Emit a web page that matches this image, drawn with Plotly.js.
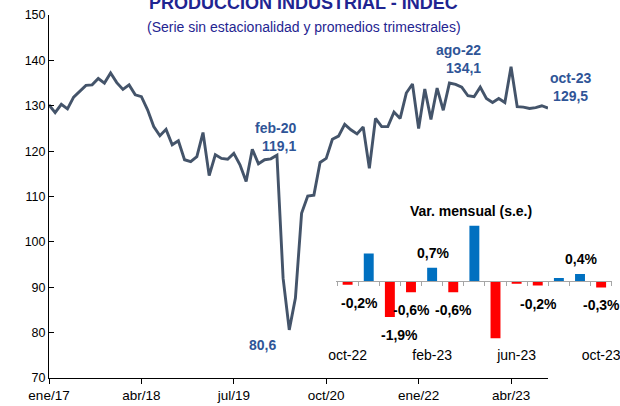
<!DOCTYPE html>
<html><head><meta charset="utf-8">
<script src="https://cdn.plot.ly/plotly-3.0.1.min.js"></script>
<style>html,body{margin:0;padding:0;background:#fff}#chart{width:620px;height:406px}</style>
</head><body><div id="chart"></div>
<script>
// ---- data ----
const monthNames = ["ene","feb","mar","abr","may","jun","jul","ago","sep","oct","nov","dic"];
const startYear = 2017;
const ipiValues = [
  130.2,128.5,130.3,129.3,131.9,133.1,134.5,134.6,136.0,135.0,137.2,135.1,
  133.6,134.6,132.4,132.0,129.1,125.4,123.4,124.8,121.4,122.3,118.1,117.7,
  118.8,124.1,114.6,119.2,118.4,118.2,119.5,117.0,113.3,120.4,117.2,118.1,
  118.3,119.1,92.0,80.6,87.6,106.3,110.1,110.3,117.5,118.4,122.6,123.3,
  125.9,124.7,123.8,125.3,116.2,127.2,125.4,125.4,128.6,127.2,132.8,134.8,
  125.0,133.7,127.0,133.9,129.0,135.0,134.7,134.1,132.2,132.0,134.1,131.6,
  130.7,131.6,130.7,138.6,129.8,129.7,129.4,129.6,130.0,129.5
];
const xTickLabels = ["ene/17","abr/18","jul/19","oct/20","ene/22","abr/23"];
const highlightMonths = ["feb/20","abr/20","ago/22","oct/23"];

const varCategories = ["oct-22","nov-22","dic-22","ene-23","feb-23","mar-23","abr-23","may-23","jun-23","jul-23","ago-23","sep-23","oct-23"];
const varValues = [-0.2,1.45,-1.9,-0.6,0.7,-0.6,6.0,-6.3,-0.15,-0.24,0.15,0.36,-0.34];
const varTickLabels = ["oct-22","feb-23","jun-23","oct-23"];
const varLabelled = [0,2,3,4,5,9,11,12];

// ---- build ----
const months = ipiValues.map((v,i)=>{
  const m = i % 12, y = startYear + Math.floor(i/12);
  return monthNames[m] + "/" + String(y).slice(2);
});
const fmt = v => v.toFixed(1).replace('.', ',');
const FONT = "Liberation Sans, Arial, sans-serif";
const W = 620, H = 406;
const px = x => x / W, py = y => 1 - y / H;

const lineTrace = {
  type:'scatter', mode:'lines', x: months, y: ipiValues,
  line:{color:'#44546A', width:2.9}, hoverinfo:'skip', showlegend:false,
  xaxis:'x', yaxis:'y'
};
const barTrace = {
  type:'bar', x: varCategories, y: varValues, xaxis:'x2', yaxis:'y2',
  marker:{color: varValues.map(v => v >= 0 ? '#0070C0' : '#FF0000')},
  width:0.47, hoverinfo:'skip', showlegend:false
};
const axisHelper = {
  type:'scatter', mode:'markers', x: varCategories, y: varValues,
  xaxis:'x3', yaxis:'y2', marker:{opacity:0}, hoverinfo:'skip', showlegend:false
};

const y2Range = [-3.02, 2.91];
const y2Dom = [py(338.3), py(225.7)];
const zeroPos = y2Dom[0] + (0 - y2Range[0]) / (y2Range[1]-y2Range[0]) * (y2Dom[1]-y2Dom[0]);

const annotations = [];
annotations.push({xref:'paper', yref:'paper', x:px(303), y:py(2.5), xanchor:'center', yanchor:'middle',
  text:'<b>PRODUCCION INDUSTRIAL - INDEC</b>', showarrow:false, font:{family:FONT, size:18, color:'#1F2591'}});
annotations.push({xref:'paper', yref:'paper', x:px(303.5), y:py(26.5), xanchor:'center', yanchor:'middle',
  text:'(Serie sin estacionalidad y promedios trimestrales)', showarrow:false, font:{family:FONT, size:14, color:'#1F2591'}});
annotations.push({xref:'paper', yref:'paper', x:px(470.7), y:py(210.7), xanchor:'center', yanchor:'middle',
  text:'<b>Var. mensual (s.e.)</b>', showarrow:false, font:{family:FONT, size:14, color:'#000'}});

// highlight labels on the line
const hlStyle = [
  {two:true, xanchor:'right', align:'right', xshift:21, yshift:18},
  {two:false, xanchor:'center', align:'center', xshift:-27, yshift:-15},
  {two:true, xanchor:'right', align:'right', xshift:21, yshift:28},
  {two:true, xanchor:'center', align:'center', xshift:22, yshift:21}
];
highlightMonths.forEach((m,k)=>{
  const i = months.indexOf(m);
  const v = ipiValues[i];
  const s = hlStyle[k];
  const name = m.replace('/', '-');
  annotations.push({xref:'x', yref:'y', x:m, y:v, showarrow:false,
    text: s.two ? '<b>'+name+'</b><br><b>'+fmt(v)+'</b>' : '<b>'+fmt(v)+'</b>',
    xanchor:s.xanchor, align:s.align, yanchor:'middle', xshift:s.xshift, yshift:s.yshift,
    font:{family:FONT, size:14, color:'#2F5597'}});
});

// bar value labels
const barXShift = {0:11.5, 2:9.5};
varLabelled.forEach(i=>{
  const v = varValues[i];
  annotations.push({xref:'x2', yref:'y2', x:varCategories[i], y:v, showarrow:false,
    text:'<b>'+fmt(v)+'%</b>', xanchor:'center', yanchor:'middle',
    xshift: barXShift[i] || 0.5, yshift: v >= 0 ? 15 : -18,
    font:{family:FONT, size:14, color:'#000'}});
});

const layout = {
  width:W, height:H, margin:{l:0,r:0,t:0,b:0},
  paper_bgcolor:'#fff', plot_bgcolor:'rgba(0,0,0,0)',
  font:{family:FONT, color:'#000'},
  showlegend:false,
  xaxis:{domain:[px(49), px(548)], type:'category', categoryorder:'array', categoryarray:months,
    range:[0, months.length-1], tickmode:'array', tickvals:xTickLabels, ticktext:xTickLabels,
    ticks:'outside', ticklen:5, tickcolor:'#000', showline:true, linecolor:'#000', linewidth:1,
    showgrid:false, zeroline:false, tickfont:{family:FONT, size:13.5, color:'#000'}, ticklabelstandoff:0,
    anchor:'y', fixedrange:true},
  yaxis:{domain:[py(378), py(15)], range:[70,150], dtick:10, ticks:'inside', ticklen:5, tickcolor:'#000',
    showline:true, linecolor:'#000', linewidth:1, showgrid:false, zeroline:false,
    tickfont:{family:FONT, size:12.5, color:'#000'}, anchor:'x', fixedrange:true},
  xaxis2:{domain:[px(336), px(611.7)], type:'category', categoryorder:'array', categoryarray:varCategories,
    range:[-0.55, varCategories.length-0.5], tickmode:'array', tickvals:varTickLabels, ticktext:varTickLabels,
    ticks:'', showline:false, showgrid:false, zeroline:false, anchor:'y2', ticklabelstandoff:7,
    tickfont:{family:FONT, size:14, color:'#000'}, fixedrange:true},
  xaxis3:{overlaying:'x2', anchor:'free', position:zeroPos, type:'category', categoryorder:'array', categoryarray:varCategories,
    range:[-0.55, varCategories.length-0.5], tickson:'boundaries', ticks:'outside', ticklen:4, tickcolor:'#A6A6A6',
    showline:true, linecolor:'#A6A6A6', linewidth:1, showticklabels:false, showgrid:false, zeroline:false, fixedrange:true},
  yaxis2:{domain:y2Dom, range:y2Range, anchor:'x2', showline:false, showticklabels:false, ticks:'',
    showgrid:false, zeroline:false, fixedrange:true},
  bargap:0.5,
  annotations: annotations
};

Plotly.newPlot('chart', [lineTrace, barTrace, axisHelper], layout, {staticPlot:true, displayModeBar:false});
</script>
</body></html>
